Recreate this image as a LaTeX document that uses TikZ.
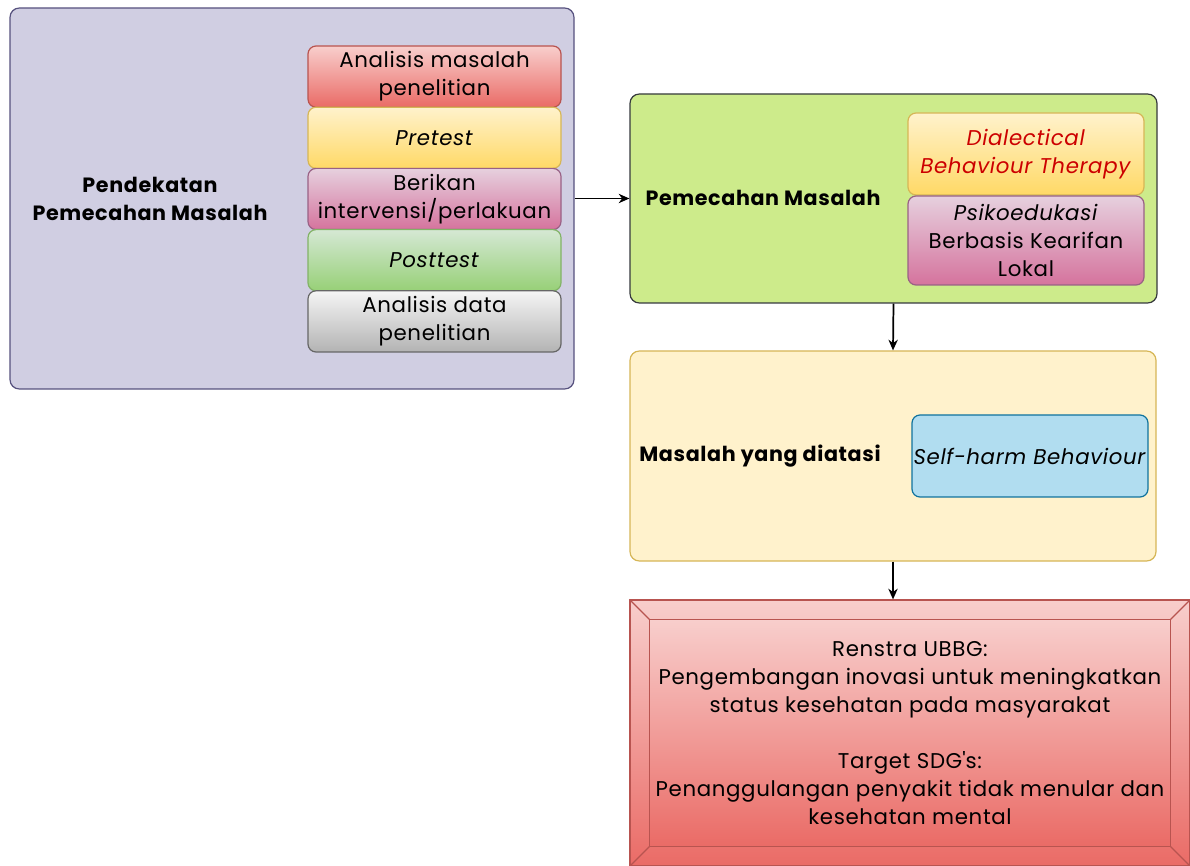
\documentclass[tikz,border=0pt]{standalone}
\usepackage{fontspec}
\setmainfont{Poppins}[LetterSpace=3]
\usetikzlibrary{positioning,calc,arrows.meta}
\definecolor{lilac}{HTML}{D0CEE2}
\definecolor{lilacline}{HTML}{56517E}
\definecolor{redtop}{HTML}{F8CECC}
\definecolor{redbot}{HTML}{EA6B66}
\definecolor{redline}{HTML}{B85450}
\definecolor{yeltop}{HTML}{FFF2CC}
\definecolor{yelbot}{HTML}{FFD966}
\definecolor{yelline}{HTML}{D6B656}
\definecolor{pinktop}{HTML}{E6D0DE}
\definecolor{pinkbot}{HTML}{D5739D}
\definecolor{pinkline}{HTML}{996185}
\definecolor{grntop}{HTML}{D5E8D4}
\definecolor{grnbot}{HTML}{97D077}
\definecolor{grnline}{HTML}{82B366}
\definecolor{grytop}{HTML}{F5F5F5}
\definecolor{grybot}{HTML}{B3B3B3}
\definecolor{gryline}{HTML}{666666}
\definecolor{lime}{HTML}{CDEB8B}
\definecolor{limeline}{HTML}{36393D}
\definecolor{skyfill}{HTML}{B1DDF0}
\definecolor{skyline}{HTML}{10739E}
\definecolor{dbtred}{HTML}{CC0000}
\tikzset{
  panel/.style={draw, rounded corners=7pt, line width=0.9pt, inner sep=0pt},
  stepbox/.style={draw, rounded corners=6pt, line width=0.9pt, align=center,
    minimum width=189.75pt, minimum height=45.9pt, inner sep=0pt},
  sidebox/.style={draw, rounded corners=6pt, line width=0.9pt, align=center,
    minimum width=177pt, inner sep=0pt},
  head/.style={font=\fontsize{15.5}{21}\selectfont\bfseries, align=center},
  redgrad/.style={top color=redtop, bottom color=redbot, draw=redline},
  yelgrad/.style={top color=yeltop, bottom color=yelbot, draw=yelline},
  pinkgrad/.style={top color=pinktop, bottom color=pinkbot, draw=pinkline},
  grngrad/.style={top color=grntop, bottom color=grnbot, draw=grnline},
  grygrad/.style={top color=grytop, bottom color=grybot, draw=gryline},
  link/.style={-{Stealth[length=8pt,width=7pt,inset=2.5pt]}, line width=1.3pt},
}
\begin{document}
\begin{tikzpicture}[x=0.75pt, y=-0.75pt, font=\fontsize{16}{21}\selectfont, line join=round]
  \useasboundingbox (0,0) rectangle (1190,866);
  % left block: approach
  \node[panel, fill=lilac, draw=lilacline, minimum width=423pt, minimum height=285.75pt] (approach) at (292,198.5) {};
  \node[head] (approachlbl) at (150,199) {Pendekatan\\Pemecahan Masalah};
  \node[stepbox, redgrad] (s1) at (434.5,76.6) {Analisis masalah\\penelitian};
  \node[stepbox, yelgrad] (s2) at (434.5,137.8) {\textit{Pretest}};
  \node[stepbox, pinkgrad] (s3) at (434.5,199) {Berikan\\intervensi/perlakuan};
  \node[stepbox, grngrad] (s4) at (434.5,260.2) {\textit{Posttest}};
  \node[stepbox, grygrad] (s5) at (434.5,321.4) {Analisis data\\penelitian};
  % solution
  \node[panel, fill=lime, draw=limeline, minimum width=395.25pt, minimum height=156.75pt] (solve) at (893.5,198.5) {};
  \node[head] (solvelbl) at (763,198) {Pemecahan Masalah};
  \node[sidebox, yelgrad, minimum height=61.5pt, text=dbtred] (dbt) at (1026,154) {\textit{Dialectical}\\\textit{Behaviour Therapy}};
  \node[sidebox, pinkgrad, minimum height=66.75pt] (psy) at (1026,240.5) {\textit{Psikoedukasi}\\Berbasis Kearifan\\Lokal};
  % problem
  \node[panel, fill=yeltop, draw=yelline, minimum width=394.5pt, minimum height=157.5pt] (problem) at (893,456) {};
  \node[head] (problemlbl) at (760,456) {Masalah yang diatasi};
  \node[sidebox, fill=skyfill, draw=skyline, minimum height=61.5pt] (harm) at (1030,456) {\textit{Self-harm Behaviour}};
  % target (bevel)
  \node[redgrad, line width=0.9pt, minimum width=420pt, minimum height=199.5pt, inner sep=0pt] (goal) at (910,733) {};
  \coordinate (gnw) at ([shift={(15pt,-15pt)}]goal.north west);
  \coordinate (gse) at ([shift={(-15pt,15pt)}]goal.south east);
  \coordinate (gne) at ([shift={(-15pt,-15pt)}]goal.north east);
  \coordinate (gsw) at ([shift={(15pt,15pt)}]goal.south west);
  \draw[redgrad, line width=0.9pt] (gnw) rectangle (gse);
  \draw[redline, line width=0.9pt] (goal.north west) -- (gnw) (goal.north east) -- (gne)
    (goal.south west) -- (gsw) (goal.south east) -- (gse);
  \node[align=center] (goaltxt) at (910,733) {Renstra UBBG:\\Pengembangan inovasi untuk meningkatkan\\status kesehatan pada masyarakat\\[21pt]Target SDG\textquotesingle s:\\Penanggulangan penyakit tidak menular dan\\kesehatan mental};
  % connectors
  \draw[link] (approach.east) -- (solve.west);
  \draw[link] (solve.south) -- (problem.north);
  \draw[link] (problem.south) -- (problem.south |- goal.north);
\end{tikzpicture}
\end{document}
